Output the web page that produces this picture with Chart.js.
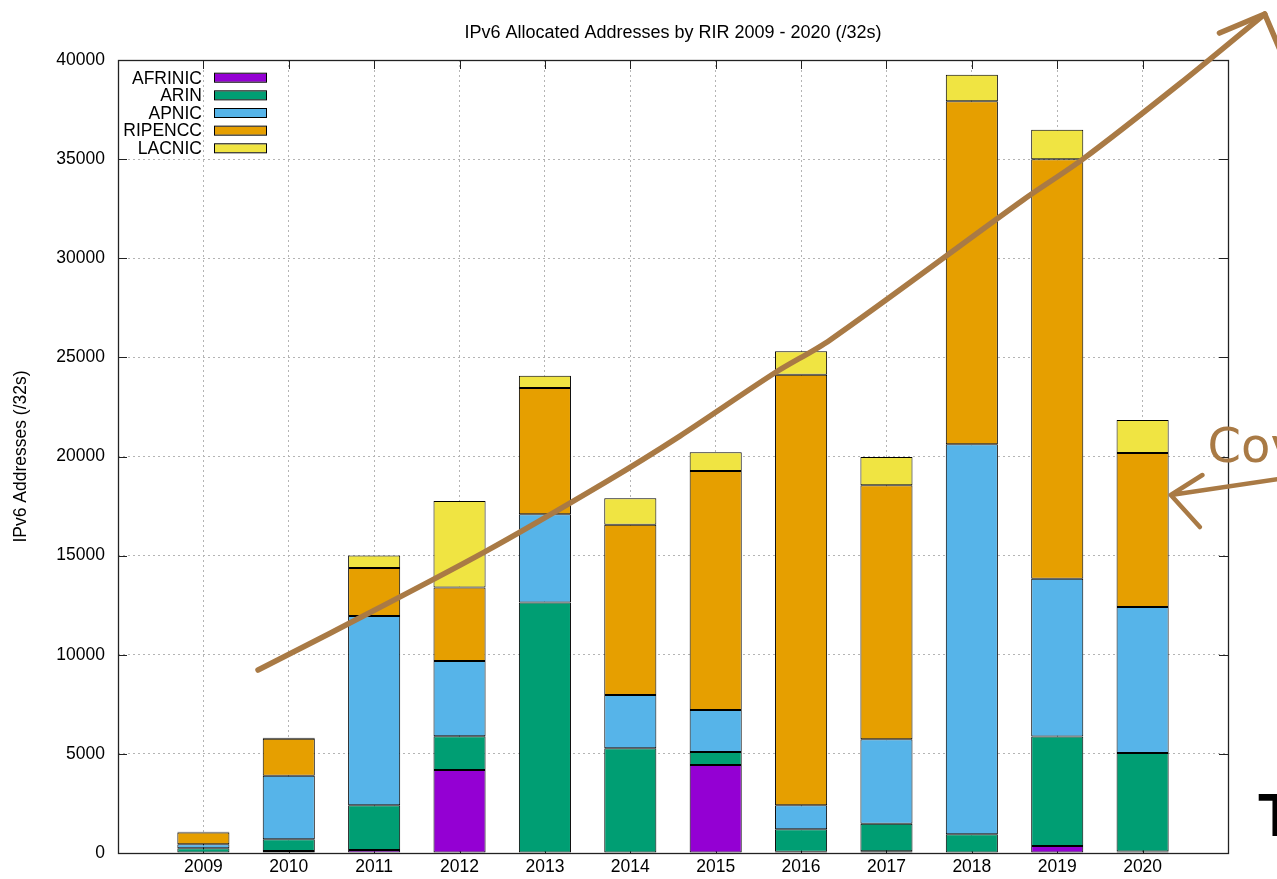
<!DOCTYPE html>
<html>
<head>
<meta charset="utf-8">
<title>IPv6 Allocated Addresses by RIR</title>
<script src="https://cdn.jsdelivr.net/npm/chart.js@4.4.0/dist/chart.umd.min.js"></script>
<style>
  html, body { margin: 0; padding: 0; background: #fff; }
  canvas { display: block; }
</style>
</head>
<body>
<canvas id="chart" width="1277" height="879"></canvas>
<script>
// values (/32s per year)
const years = ['2009', '2010', '2011', '2012', '2013', '2014', '2015', '2016', '2017', '2018', '2019', '2020'];
const afrinic = [20, 100, 150, 4190, 30, 30, 4440, 65, 90, 30, 350, 75];
const arin    = [217, 590, 2256, 1700, 12610, 5250, 655, 1130, 1390, 913, 5530, 4970];
const apnic   = [202, 3208, 9548, 3800, 4450, 2690, 2120, 1210, 4257, 19672, 7950, 7364];
const ripencc = [600, 1866, 2420, 3700, 6360, 8590, 12055, 21720, 12810, 17300, 21170, 7768];
const lacnic  = [35, 50, 630, 4360, 620, 1330, 943, 1180, 1430, 1343, 1480, 1664];
const yTickValues = [0, 5000, 10000, 15000, 20000, 25000, 30000, 35000, 40000];

// hand drawn trend arrow, in chart units (x = year index, y = addresses)
const trendX = [0.64, 1.49, 3.29, 4.73, 5.58, 6.69, 7.34, 9.60, 10.30, 11.43, 12.43];
const trendY = [9230, 11100, 15180, 18760, 21030, 24210, 25880, 32940, 35000, 38790, 42320];
const trendBarbs = [[11.90, 41360], [12.60, 40600]];
// second note pointing at 2020
const noteShaft = [[12.60, 18865], [11.33, 18058]];
const noteBarbs = [[11.70, 19066], [11.67, 16443]];
const noteText = { x: 11.76, y: 19720, text: 'Cov' };

const colors = ['#9400d3', '#009e73', '#56b4e9', '#e69f00', '#f0e442'];
const brown = '#a97a45';
const FONT = '"Liberation Sans", Arial, sans-serif';

Chart.defaults.color = '#000';
Chart.defaults.font.family = FONT;
Chart.defaults.font.size = 17.5;

function bars(label, values, color) {
  return {
    type: 'bar',
    label,
    data: values.map((v, i) => ({ x: i, y: v })),
    backgroundColor: color,
    borderColor: '#000',
    borderWidth: 1,
    borderSkipped: false,
    barPercentage: 0.61,
    categoryPercentage: 1,
  };
}

const frame = {
  id: 'frame',
  beforeDatasetsDraw(chart) {
    const { ctx, chartArea: a, scales: { x, y } } = chart;
    ctx.save();
    ctx.strokeStyle = '#222';
    ctx.lineWidth = 1;
    ctx.beginPath();
    yTickValues.forEach(v => {
      const py = Math.round(y.getPixelForValue(v)) + 0.5;
      ctx.moveTo(a.left, py); ctx.lineTo(a.left + 9, py);
      ctx.moveTo(a.right, py); ctx.lineTo(a.right - 9, py);
    });
    years.forEach((_, i) => {
      const px = Math.round(x.getPixelForValue(i)) + 0.5;
      ctx.moveTo(px, a.top); ctx.lineTo(px, a.top + 9);
      ctx.moveTo(px, a.bottom); ctx.lineTo(px, a.bottom - 9);
    });
    ctx.stroke();
    ctx.lineWidth = 1.3;
    ctx.strokeRect(Math.round(a.left) + 0.5, Math.round(a.top) + 0.5,
      Math.round(a.right - a.left), Math.round(a.bottom - a.top));
    ctx.restore();
  },
  afterDraw(chart) {
    const { ctx, chartArea: a, scales: { x, y } } = chart;
    ctx.save();
    // title
    ctx.fillStyle = '#000';
    ctx.font = '18px ' + FONT;
    ctx.textAlign = 'center';
    ctx.textBaseline = 'middle';
    ctx.fillText('IPv6 Allocated Addresses by RIR 2009 - 2020 (/32s)', (a.left + a.right) / 2, 33);

    // key, top left inside the frame
    const bar = chart.data.datasets.filter(d => d.type === 'bar');
    ctx.font = '17.5px ' + FONT;
    ctx.textAlign = 'right';
    bar.forEach((d, i) => {
      const cy = a.top + 17.7 + i * 17.65;
      ctx.fillStyle = '#000';
      ctx.fillText(d.label, a.left + 84, cy + 1);
      ctx.fillStyle = d.backgroundColor;
      ctx.fillRect(a.left + 96, cy - 4, 52, 8);
      ctx.strokeStyle = '#000';
      ctx.lineWidth = 1;
      ctx.strokeRect(a.left + 96.5, cy - 4.5, 52, 9);
    });

    // arrow heads and note
    const P = ([vx, vy]) => [x.getPixelForValue(vx), y.getPixelForValue(vy)];
    ctx.strokeStyle = brown;
    ctx.lineWidth = 5.5;
    ctx.lineCap = 'round';
    ctx.lineJoin = 'round';
    const tip = P([trendX[trendX.length - 1], trendY[trendY.length - 1]]);
    ctx.beginPath();
    trendBarbs.forEach(b => { const p = P(b); ctx.moveTo(tip[0], tip[1]); ctx.lineTo(p[0], p[1]); });
    ctx.stroke();

    const s0 = P(noteShaft[0]), s1 = P(noteShaft[1]);
    ctx.lineWidth = 4.5;
    ctx.beginPath();
    ctx.moveTo(s0[0], s0[1]);
    ctx.lineTo(s1[0], s1[1]);
    noteBarbs.forEach(b => { const p = P(b); ctx.moveTo(s1[0], s1[1]); ctx.lineTo(p[0], p[1]); });
    ctx.stroke();

    ctx.fillStyle = brown;
    ctx.font = '48px "DejaVu Sans", sans-serif';
    ctx.textAlign = 'left';
    ctx.textBaseline = 'alphabetic';
    ctx.fillText(noteText.text, x.getPixelForValue(noteText.x), y.getPixelForValue(noteText.y));

    ctx.fillStyle = '#000';
    ctx.font = 'bold 62px ' + FONT;
    ctx.fillText('T', 1258, 836);
    ctx.restore();
  }
};

new Chart(document.getElementById('chart'), {
  data: {
    datasets: [
      bars('AFRINIC', afrinic, colors[0]),
      bars('ARIN', arin, colors[1]),
      bars('APNIC', apnic, colors[2]),
      bars('RIPENCC', ripencc, colors[3]),
      bars('LACNIC', lacnic, colors[4]),
      {
        type: 'line',
        label: 'trend',
        stack: 'trend',
        order: -1,
        data: trendX.map((v, i) => ({ x: v, y: trendY[i] })),
        borderColor: brown,
        borderWidth: 5.5,
        borderCapStyle: 'round',
        pointRadius: 0,
        tension: 0.3,
        clip: false,
      }
    ]
  },
  options: {
    responsive: false,
    animation: false,
    devicePixelRatio: 1,
    layout: { padding: { top: 60, right: 49, left: 0, bottom: 0 } },
    plugins: {
      legend: { display: false },
      tooltip: { enabled: false },
    },
    scales: {
      x: {
        type: 'linear',
        stacked: true,
        min: -1,
        max: 12,
        offset: false,
        afterBuildTicks: s => {
          s.ticks = [];
          for (let v = -1; v <= 12; v++) s.ticks.push({ value: v });
        },
        ticks: {
          autoSkip: false,
          maxRotation: 0,
          padding: 4,
          callback: v => years[v] ?? '',
        },
        grid: { color: '#b4b4b4', lineWidth: 1, drawTicks: false, offset: false },
        border: { display: false, dash: [2, 3] },
        afterFit: s => { s.height = 26; },
      },
      y: {
        stacked: true,
        min: 0,
        max: 40000,
        afterBuildTicks: s => { s.ticks = yTickValues.map(v => ({ value: v })); },
        ticks: { padding: 13, callback: v => String(v) },
        grid: { color: '#b4b4b4', lineWidth: 1, drawTicks: false },
        border: { display: false, dash: [2, 3] },
        title: { display: true, text: 'IPv6 Addresses (/32s)', padding: { top: 11, bottom: 0 } },
        afterFit: s => { s.width = 118; },
      }
    }
  },
  plugins: [frame]
});
</script>
</body>
</html>
